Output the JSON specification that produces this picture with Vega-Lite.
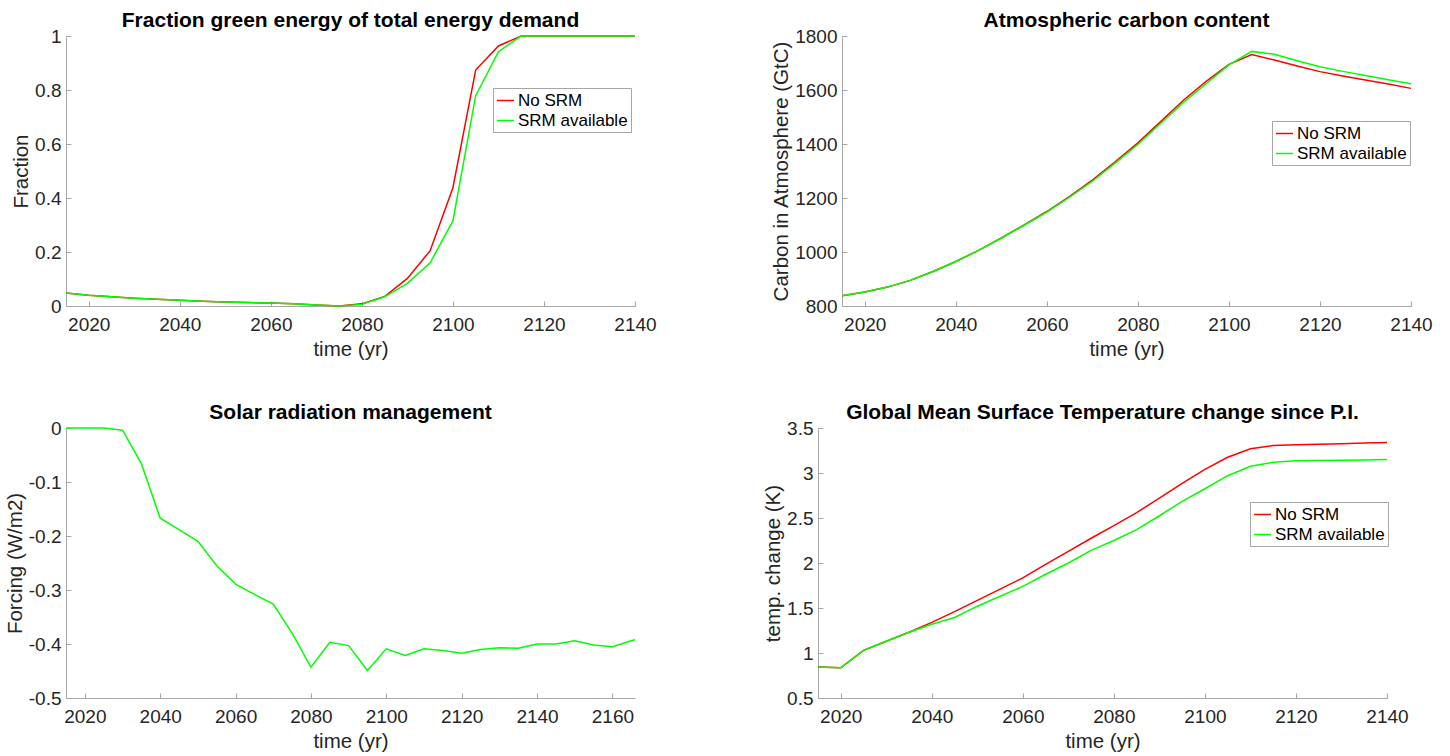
{
  "$schema": "https://vega.github.io/schema/vega-lite/v6.json",
  "background": "white",
  "padding": {"left": 5, "top": 10, "right": 5, "bottom": 5},
  "config": {
    "view": {"stroke": null},
    "font": "Liberation Sans",
    "axis": {
      "domainColor": "#a6a6a6", "tickColor": "#a6a6a6", "domainWidth": 1, "tickWidth": 1,
      "labelColor": "#262626", "titleColor": "#262626",
      "labelFont": "Liberation Sans", "titleFont": "Liberation Sans",
      "labelFontSize": 19, "titleFontSize": 20.5, "titleFontWeight": "normal",
      "grid": false, "tickSize": -5, "labelFlush": false, "labelOverlap": false
    },
    "axisX": {"labelPadding": 14, "titlePadding": 5},
    "axisY": {"labelPadding": 10, "titlePadding": 3},
    "title": {"font": "Liberation Sans", "fontSize": 21, "fontWeight": "bold", "color": "#000000", "anchor": "middle", "frame": "group", "offset": -4, "baseline": "alphabetic"},
    "legend": {
      "labelFont": "Liberation Sans", "labelFontSize": 17, "labelColor": "#000000",
      "symbolType": "stroke", "symbolSize": 289, "symbolStrokeWidth": 1.5,
      "strokeColor": "#a6a6a6", "fillColor": "white", "padding": 3, "rowPadding": 2,
      "labelOffset": 3, "direction": "vertical"
    }
  },
  "datasets": {
    "frac": [
      {"year": 2015, "series": "No SRM", "value": 0.048}, {"year": 2020, "series": "No SRM", "value": 0.04}, {"year": 2025, "series": "No SRM", "value": 0.034}, {"year": 2030, "series": "No SRM", "value": 0.029}, {"year": 2035, "series": "No SRM", "value": 0.025}, {"year": 2040, "series": "No SRM", "value": 0.021}, {"year": 2045, "series": "No SRM", "value": 0.018}, {"year": 2050, "series": "No SRM", "value": 0.015}, {"year": 2055, "series": "No SRM", "value": 0.013}, {"year": 2060, "series": "No SRM", "value": 0.011}, {"year": 2065, "series": "No SRM", "value": 0.008}, {"year": 2070, "series": "No SRM", "value": 0.004}, {"year": 2075, "series": "No SRM", "value": 0.0}, {"year": 2080, "series": "No SRM", "value": 0.008}, {"year": 2085, "series": "No SRM", "value": 0.035}, {"year": 2090, "series": "No SRM", "value": 0.102}, {"year": 2095, "series": "No SRM", "value": 0.205}, {"year": 2100, "series": "No SRM", "value": 0.438}, {"year": 2105, "series": "No SRM", "value": 0.874}, {"year": 2110, "series": "No SRM", "value": 0.963}, {"year": 2115, "series": "No SRM", "value": 1.0}, {"year": 2120, "series": "No SRM", "value": 1.0}, {"year": 2125, "series": "No SRM", "value": 1.0}, {"year": 2130, "series": "No SRM", "value": 1.0}, {"year": 2135, "series": "No SRM", "value": 1.0}, {"year": 2140, "series": "No SRM", "value": 1.0},
      {"year": 2015, "series": "SRM available", "value": 0.048}, {"year": 2020, "series": "SRM available", "value": 0.04}, {"year": 2025, "series": "SRM available", "value": 0.034}, {"year": 2030, "series": "SRM available", "value": 0.029}, {"year": 2035, "series": "SRM available", "value": 0.025}, {"year": 2040, "series": "SRM available", "value": 0.021}, {"year": 2045, "series": "SRM available", "value": 0.018}, {"year": 2050, "series": "SRM available", "value": 0.015}, {"year": 2055, "series": "SRM available", "value": 0.013}, {"year": 2060, "series": "SRM available", "value": 0.011}, {"year": 2065, "series": "SRM available", "value": 0.008}, {"year": 2070, "series": "SRM available", "value": 0.004}, {"year": 2075, "series": "SRM available", "value": 0.0}, {"year": 2080, "series": "SRM available", "value": 0.006}, {"year": 2085, "series": "SRM available", "value": 0.034}, {"year": 2090, "series": "SRM available", "value": 0.084}, {"year": 2095, "series": "SRM available", "value": 0.16}, {"year": 2100, "series": "SRM available", "value": 0.315}, {"year": 2105, "series": "SRM available", "value": 0.779}, {"year": 2110, "series": "SRM available", "value": 0.942}, {"year": 2115, "series": "SRM available", "value": 1.0}, {"year": 2120, "series": "SRM available", "value": 1.0}, {"year": 2125, "series": "SRM available", "value": 1.0}, {"year": 2130, "series": "SRM available", "value": 1.0}, {"year": 2135, "series": "SRM available", "value": 1.0}, {"year": 2140, "series": "SRM available", "value": 1.0}
    ],
    "carbon": [
      {"year": 2015, "series": "No SRM", "value": 838}, {"year": 2020, "series": "No SRM", "value": 852}, {"year": 2025, "series": "No SRM", "value": 870}, {"year": 2030, "series": "No SRM", "value": 895}, {"year": 2035, "series": "No SRM", "value": 928}, {"year": 2040, "series": "No SRM", "value": 965}, {"year": 2045, "series": "No SRM", "value": 1006}, {"year": 2050, "series": "No SRM", "value": 1052}, {"year": 2055, "series": "No SRM", "value": 1100}, {"year": 2060, "series": "No SRM", "value": 1150}, {"year": 2065, "series": "No SRM", "value": 1206}, {"year": 2070, "series": "No SRM", "value": 1266}, {"year": 2075, "series": "No SRM", "value": 1334}, {"year": 2080, "series": "No SRM", "value": 1404}, {"year": 2085, "series": "No SRM", "value": 1483}, {"year": 2090, "series": "No SRM", "value": 1562}, {"year": 2095, "series": "No SRM", "value": 1632}, {"year": 2100, "series": "No SRM", "value": 1695}, {"year": 2105, "series": "No SRM", "value": 1731}, {"year": 2110, "series": "No SRM", "value": 1711}, {"year": 2115, "series": "No SRM", "value": 1689}, {"year": 2120, "series": "No SRM", "value": 1668}, {"year": 2125, "series": "No SRM", "value": 1652}, {"year": 2130, "series": "No SRM", "value": 1637}, {"year": 2135, "series": "No SRM", "value": 1622}, {"year": 2140, "series": "No SRM", "value": 1606},
      {"year": 2015, "series": "SRM available", "value": 838}, {"year": 2020, "series": "SRM available", "value": 852}, {"year": 2025, "series": "SRM available", "value": 870}, {"year": 2030, "series": "SRM available", "value": 895}, {"year": 2035, "series": "SRM available", "value": 928}, {"year": 2040, "series": "SRM available", "value": 965}, {"year": 2045, "series": "SRM available", "value": 1006}, {"year": 2050, "series": "SRM available", "value": 1051}, {"year": 2055, "series": "SRM available", "value": 1099}, {"year": 2060, "series": "SRM available", "value": 1148}, {"year": 2065, "series": "SRM available", "value": 1203}, {"year": 2070, "series": "SRM available", "value": 1262}, {"year": 2075, "series": "SRM available", "value": 1329}, {"year": 2080, "series": "SRM available", "value": 1398}, {"year": 2085, "series": "SRM available", "value": 1476}, {"year": 2090, "series": "SRM available", "value": 1554}, {"year": 2095, "series": "SRM available", "value": 1623}, {"year": 2100, "series": "SRM available", "value": 1693}, {"year": 2105, "series": "SRM available", "value": 1743}, {"year": 2110, "series": "SRM available", "value": 1732}, {"year": 2115, "series": "SRM available", "value": 1708}, {"year": 2120, "series": "SRM available", "value": 1686}, {"year": 2125, "series": "SRM available", "value": 1669}, {"year": 2130, "series": "SRM available", "value": 1654}, {"year": 2135, "series": "SRM available", "value": 1638}, {"year": 2140, "series": "SRM available", "value": 1623}
    ],
    "srm": [
      {"year": 2015, "value": 0}, {"year": 2020, "value": 0}, {"year": 2025, "value": 0}, {"year": 2030, "value": -0.004}, {"year": 2035, "value": -0.066}, {"year": 2040, "value": -0.167}, {"year": 2045, "value": -0.188}, {"year": 2050, "value": -0.21}, {"year": 2055, "value": -0.255}, {"year": 2060, "value": -0.289}, {"year": 2065, "value": -0.308}, {"year": 2070, "value": -0.326}, {"year": 2075, "value": -0.38}, {"year": 2080, "value": -0.443}, {"year": 2085, "value": -0.397}, {"year": 2090, "value": -0.403}, {"year": 2095, "value": -0.449}, {"year": 2100, "value": -0.409}, {"year": 2105, "value": -0.421}, {"year": 2110, "value": -0.409}, {"year": 2115, "value": -0.412}, {"year": 2120, "value": -0.417}, {"year": 2125, "value": -0.41}, {"year": 2130, "value": -0.407}, {"year": 2135, "value": -0.408}, {"year": 2140, "value": -0.4}, {"year": 2145, "value": -0.4}, {"year": 2150, "value": -0.394}, {"year": 2155, "value": -0.402}, {"year": 2160, "value": -0.405}, {"year": 2165, "value": -0.394}, {"year": 2166, "value": -0.392}
    ],
    "temp": [
      {"year": 2015, "series": "No SRM", "value": 0.845}, {"year": 2020, "series": "No SRM", "value": 0.835}, {"year": 2025, "series": "No SRM", "value": 1.03}, {"year": 2030, "series": "No SRM", "value": 1.13}, {"year": 2035, "series": "No SRM", "value": 1.23}, {"year": 2040, "series": "No SRM", "value": 1.34}, {"year": 2045, "series": "No SRM", "value": 1.46}, {"year": 2050, "series": "No SRM", "value": 1.585}, {"year": 2055, "series": "No SRM", "value": 1.71}, {"year": 2060, "series": "No SRM", "value": 1.835}, {"year": 2065, "series": "No SRM", "value": 1.985}, {"year": 2070, "series": "No SRM", "value": 2.13}, {"year": 2075, "series": "No SRM", "value": 2.275}, {"year": 2080, "series": "No SRM", "value": 2.415}, {"year": 2085, "series": "No SRM", "value": 2.56}, {"year": 2090, "series": "No SRM", "value": 2.72}, {"year": 2095, "series": "No SRM", "value": 2.885}, {"year": 2100, "series": "No SRM", "value": 3.04}, {"year": 2105, "series": "No SRM", "value": 3.175}, {"year": 2110, "series": "No SRM", "value": 3.27}, {"year": 2115, "series": "No SRM", "value": 3.305}, {"year": 2120, "series": "No SRM", "value": 3.315}, {"year": 2125, "series": "No SRM", "value": 3.32}, {"year": 2130, "series": "No SRM", "value": 3.325}, {"year": 2135, "series": "No SRM", "value": 3.332}, {"year": 2140, "series": "No SRM", "value": 3.34},
      {"year": 2015, "series": "SRM available", "value": 0.845}, {"year": 2020, "series": "SRM available", "value": 0.835}, {"year": 2025, "series": "SRM available", "value": 1.03}, {"year": 2030, "series": "SRM available", "value": 1.13}, {"year": 2035, "series": "SRM available", "value": 1.23}, {"year": 2040, "series": "SRM available", "value": 1.32}, {"year": 2045, "series": "SRM available", "value": 1.395}, {"year": 2050, "series": "SRM available", "value": 1.52}, {"year": 2055, "series": "SRM available", "value": 1.63}, {"year": 2060, "series": "SRM available", "value": 1.74}, {"year": 2065, "series": "SRM available", "value": 1.875}, {"year": 2070, "series": "SRM available", "value": 2.0}, {"year": 2075, "series": "SRM available", "value": 2.14}, {"year": 2080, "series": "SRM available", "value": 2.25}, {"year": 2085, "series": "SRM available", "value": 2.37}, {"year": 2090, "series": "SRM available", "value": 2.525}, {"year": 2095, "series": "SRM available", "value": 2.685}, {"year": 2100, "series": "SRM available", "value": 2.825}, {"year": 2105, "series": "SRM available", "value": 2.97}, {"year": 2110, "series": "SRM available", "value": 3.075}, {"year": 2115, "series": "SRM available", "value": 3.12}, {"year": 2120, "series": "SRM available", "value": 3.135}, {"year": 2125, "series": "SRM available", "value": 3.138}, {"year": 2130, "series": "SRM available", "value": 3.141}, {"year": 2135, "series": "SRM available", "value": 3.145}, {"year": 2140, "series": "SRM available", "value": 3.15}
    ]
  },
  "spacing": 42,
  "resolve": {"scale": {"color": "independent"}, "legend": {"color": "independent"}},
  "vconcat": [
    {
      "hconcat": [
        {
          "width": 569, "height": 270,
          "title": "Fraction green energy of total energy demand",
          "data": {"name": "frac"},
          "mark": {"type": "line", "strokeWidth": 1.5},
          "encoding": {
            "x": {"field": "year", "type": "quantitative", "scale": {"domain": [2015, 2140], "nice": false, "zero": false}, "axis": {"title": "time (yr)", "values": [2020, 2040, 2060, 2080, 2100, 2120, 2140], "format": "d"}},
            "y": {"field": "value", "type": "quantitative", "scale": {"domain": [0, 1], "nice": false}, "axis": {"title": "Fraction", "values": [0, 0.2, 0.4, 0.6, 0.8, 1], "format": "~g"}},
            "color": {"field": "series", "type": "nominal", "scale": {"domain": ["No SRM", "SRM available"], "range": ["#ff0000", "#00ff00"]}, "legend": {"title": null, "orient": "none", "legendX": 427, "legendY": 52}}
          }
        },
        {
          "width": 569, "height": 270,
          "title": "Atmospheric carbon content",
          "data": {"name": "carbon"},
          "mark": {"type": "line", "strokeWidth": 1.5},
          "encoding": {
            "x": {"field": "year", "type": "quantitative", "scale": {"domain": [2015, 2140], "nice": false, "zero": false}, "axis": {"title": "time (yr)", "values": [2020, 2040, 2060, 2080, 2100, 2120, 2140], "format": "d"}},
            "y": {"field": "value", "type": "quantitative", "scale": {"domain": [800, 1800], "nice": false, "zero": false}, "axis": {"title": "Carbon in Atmosphere (GtC)", "values": [800, 1000, 1200, 1400, 1600, 1800], "format": "d"}},
            "color": {"field": "series", "type": "nominal", "scale": {"domain": ["No SRM", "SRM available"], "range": ["#ff0000", "#00ff00"]}, "legend": {"title": null, "orient": "none", "legendX": 430, "legendY": 85}}
          }
        }
      ],
      "spacing": 207,
      "bounds": "flush",
      "resolve": {"scale": {"color": "independent"}, "legend": {"color": "independent"}}
    },
    {
      "hconcat": [
        {
          "width": 569, "height": 270,
          "title": "Solar radiation management",
          "data": {"name": "srm"},
          "mark": {"type": "line", "strokeWidth": 1.5, "color": "#00ff00"},
          "encoding": {
            "x": {"field": "year", "type": "quantitative", "scale": {"domain": [2015, 2166], "nice": false, "zero": false}, "axis": {"title": "time (yr)", "values": [2020, 2040, 2060, 2080, 2100, 2120, 2140, 2160], "format": "d"}},
            "y": {"field": "value", "type": "quantitative", "scale": {"domain": [-0.5, 0], "nice": false}, "axis": {"title": "Forcing (W/m2)", "values": [-0.5, -0.4, -0.3, -0.2, -0.1, 0], "labelExpr": "replace(format(datum.value, '~g'), '\u2212', '-')"}}
          }
        },
        {
          "width": 569, "height": 270,
          "title": "Global Mean Surface Temperature change since P.I.",
          "data": {"name": "temp"},
          "mark": {"type": "line", "strokeWidth": 1.5},
          "encoding": {
            "x": {"field": "year", "type": "quantitative", "scale": {"domain": [2015, 2140], "nice": false, "zero": false}, "axis": {"title": "time (yr)", "values": [2020, 2040, 2060, 2080, 2100, 2120, 2140], "format": "d"}},
            "y": {"field": "value", "type": "quantitative", "scale": {"domain": [0.5, 3.5], "nice": false, "zero": false}, "axis": {"title": "temp. change (K)", "values": [0.5, 1, 1.5, 2, 2.5, 3, 3.5], "format": "~g"}},
            "color": {"field": "series", "type": "nominal", "scale": {"domain": ["No SRM", "SRM available"], "range": ["#ff0000", "#00ff00"]}, "legend": {"title": null, "orient": "none", "legendX": 432, "legendY": 74}}
          }
        }
      ],
      "spacing": 183,
      "bounds": "flush",
      "resolve": {"scale": {"color": "independent"}, "legend": {"color": "independent"}}
    }
  ]
}
